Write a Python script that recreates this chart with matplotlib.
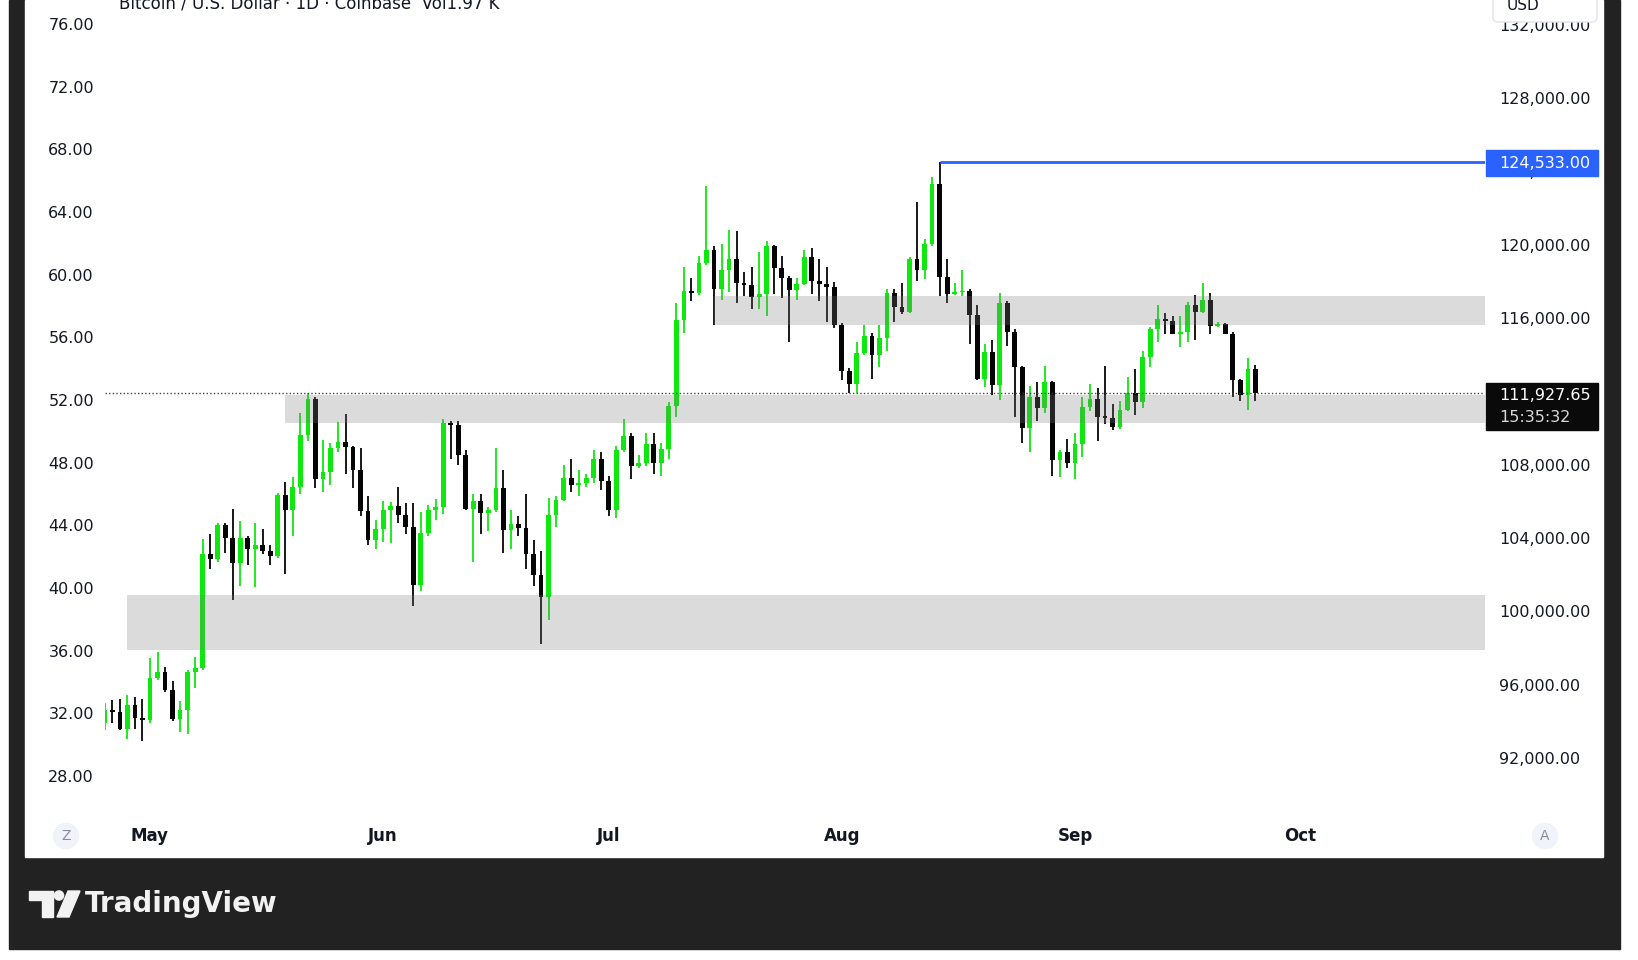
import numpy as np
import pandas as pd
import matplotlib
matplotlib.use('Agg')
import matplotlib.pyplot as plt
import matplotlib.dates as mdates
from matplotlib.patches import Rectangle, Polygon, Circle, FancyBboxPatch

W, H = 1638, 960

# ---------------- data (BTC/USD daily, thousands of USD) ----------------
start_date = '2025-04-25'
open_k = [93.9, 94.6, 94.5, 93.6, 94.9, 94.2,
          94.05, 96.35, 96.7, 95.7, 94.1, 94.6, 96.7, 96.9, 103.15, 102.85, 104.7, 104.0, 102.65, 104.0,
          103.4, 103.6, 103.3, 103.0, 106.35, 105.5, 106.8, 109.6, 111.6, 107.2, 107.6, 108.9, 109.25,
          108.95, 107.7, 105.45, 103.9,
          104.5, 105.5, 105.75, 105.25, 104.6, 101.45, 104.25, 105.5, 105.7, 110.25, 110.15, 108.5, 105.6,
          106.0, 105.35, 105.5, 106.7, 104.45, 104.75, 104.55, 103.15, 102.0, 100.8, 105.25, 106.05,
          107.25, 106.9, 107.0, 107.25, 108.3,
          107.1, 105.55, 108.8, 109.55, 107.9, 108.1, 109.15, 108.1, 108.85, 111.2, 115.9, 117.45, 117.35,
          119.0, 119.7, 117.6, 118.6, 119.2, 117.9, 117.8, 117.15, 117.3, 119.95, 118.7, 118.2, 117.5,
          117.85, 119.35, 118.0, 117.85, 117.7,
          115.6, 113.1, 112.4, 114.1, 115.0, 114.0, 114.9, 117.35, 116.6, 116.35, 119.2, 118.6, 120.05,
          123.3, 118.25, 117.3, 117.4, 117.45, 116.15, 112.65, 114.15, 112.35, 116.8, 115.25, 113.3, 110.0,
          111.7, 111.1, 112.5, 108.25, 108.7,
          108.1, 109.1, 111.15, 111.6, 110.6, 110.55, 110.05, 111.0, 111.9, 111.4, 113.85, 115.4, 115.95,
          115.85, 115.15, 115.25, 116.7, 116.35, 117.0, 115.55, 115.65, 115.15, 112.6, 111.8, 113.2]
high_k = [95.0, 95.15, 95.2, 95.45, 95.3, 95.2,
          97.45, 97.8, 96.95, 96.2, 95.1, 96.8, 97.5, 103.95, 104.2, 104.8, 104.8, 105.6, 104.9, 104.1,
          104.8, 104.5, 103.6, 106.45, 107.05, 107.3, 110.8, 111.9, 111.7, 109.35, 109.2, 110.35, 110.75,
          109.0, 108.9, 106.3, 105.0,
          106.0, 105.95, 106.8, 105.9, 105.9, 105.4, 105.8, 106.1, 110.5, 110.4, 110.4, 108.8, 106.4,
          106.4, 105.7, 108.9, 107.7, 105.5, 105.2, 106.4, 103.9, 103.3, 106.2, 106.3, 108.0,
          108.3, 107.7, 107.5, 108.8, 108.7,
          107.4, 109.0, 110.5, 109.7, 108.5, 109.7, 109.7, 109.2, 111.4, 116.8, 118.8, 118.2, 119.4,
          123.2, 119.95, 120.05, 120.8, 120.75, 118.5, 118.8, 119.6, 120.2, 120.0, 119.4, 118.3,
          118.2, 119.7, 119.8, 119.2, 118.8, 117.95,
          115.7, 113.25, 114.7, 115.6, 115.2, 115.6, 117.6, 117.6, 117.9, 119.3, 122.3, 120.3,
          123.7, 124.533, 119.2, 117.9, 118.6, 117.6, 116.7, 114.6, 114.8, 117.35, 116.95, 115.4, 113.4,
          112.3, 112.5, 113.4, 112.55, 108.8, 109.4,
          109.75, 111.7, 112.4, 112.2, 113.4, 111.3, 111.45, 112.8, 113.2, 114.2, 115.5, 116.7,
          116.25, 116.1, 116.1, 116.85, 117.25, 117.9, 117.35, 115.8, 115.75, 115.25, 112.65, 113.8, 113.45]
low_k = [93.5, 93.9, 93.5, 93.05, 93.6, 92.95,
         93.9, 96.25, 95.6, 94.0, 93.4, 93.3, 95.8, 96.8, 102.3, 102.7, 103.2, 100.6, 101.4, 102.5,
         101.3, 103.1, 102.5, 102.9, 102.05, 104.1, 106.4, 109.3, 106.7, 106.5, 106.9, 108.7, 107.5,
         106.7, 105.2, 103.6, 103.4,
         103.8, 103.7, 104.8, 104.2, 100.3, 101.1, 104.1, 105.0, 105.3, 108.3, 108.0, 105.5, 102.7,
         104.2, 104.4, 105.4, 103.2, 103.4, 104.1, 102.3, 101.4, 98.2, 99.5, 104.6, 106.0,
         106.5, 106.3, 106.8, 107.0, 106.6,
         105.2, 105.1, 108.7, 107.2, 107.8, 107.9, 107.5, 107.4, 108.3, 110.6, 115.2, 116.9, 117.25,
         118.9, 115.6, 117.0, 117.4, 116.8, 117.2, 116.5, 116.5, 116.1, 117.3, 117.1, 114.7,
         117.0, 117.8, 117.3, 116.9, 115.8, 115.45,
         112.6, 111.9, 111.9, 114.0, 112.65, 113.3, 114.2, 115.8, 116.2, 116.25, 118.0, 118.1,
         119.9, 117.2, 116.8, 117.25, 117.2, 114.6, 112.6, 112.25, 111.8, 111.5, 114.45, 110.6, 109.2,
         108.7, 110.4, 110.8, 107.4, 107.3, 107.8,
         107.2, 108.4, 110.95, 109.3, 110.2, 109.9, 109.95, 110.9, 110.7, 111.1, 113.3, 114.7,
         115.1, 115.1, 114.4, 114.7, 114.8, 116.25, 115.1, 115.5, 115.1, 111.7, 111.45, 111.0, 111.45]
close_k = [94.6, 94.5, 93.6, 94.9, 94.2, 94.05,
           96.35, 96.7, 95.7, 94.1, 94.6, 96.7, 96.9, 103.15, 102.85, 104.7, 104.0, 102.65, 104.0, 103.4,
           103.6, 103.3, 103.0, 106.35, 105.5, 106.8, 109.6, 111.6, 107.2, 107.6, 108.9, 109.25, 108.95,
           107.7, 105.45, 103.9, 104.5,
           105.5, 105.75, 105.25, 104.6, 101.45, 104.25, 105.5, 105.7, 110.25, 110.15, 108.5, 105.6, 106.0,
           105.35, 105.5, 106.7, 104.45, 104.75, 104.55, 103.15, 102.0, 100.8, 105.25, 106.05, 107.25,
           106.9, 107.0, 107.25, 108.3, 107.1,
           105.55, 108.8, 109.55, 107.9, 108.1, 109.15, 108.1, 108.85, 111.2, 115.9, 117.45, 117.35, 119.0,
           119.7, 117.6, 118.6, 119.2, 117.9, 117.8, 117.15, 117.3, 119.95, 118.7, 118.2, 117.5, 117.85,
           119.35, 118.0, 117.85, 117.7, 115.6,
           113.1, 112.4, 114.1, 115.0, 114.0, 114.9, 117.35, 116.6, 116.35, 119.2, 118.6, 120.05, 123.3,
           118.25, 117.3, 117.4, 117.45, 116.15, 112.65, 114.15, 112.35, 116.8, 115.25, 113.3, 110.0, 111.7,
           111.1, 112.5, 108.25, 108.7, 108.1,
           109.1, 111.15, 111.6, 110.6, 110.55, 110.05, 111.0, 111.9, 111.4, 113.85, 115.4, 115.95, 115.85,
           115.15, 115.25, 116.7, 116.35, 117.0, 115.55, 115.65, 115.15, 112.6, 111.8, 113.2, 111.92765]

ath_price = 124533.00
ath_date = '2025-08-14'
last_price = 111927.65
countdown = '15:35:32'

zone_start = ['2025-04-28', '2025-05-19', '2025-07-15']
zone_low_k = [97.89, 110.27, 115.62]
zone_high_k = [100.89, 111.80, 117.20]

right_ticks = [92000, 96000, 100000, 104000, 108000, 112000, 116000, 120000, 124000, 128000, 132000]
left_ticks = [28, 32, 36, 40, 44, 48, 52, 56, 60, 64, 68, 72, 76]
month_starts = ['2025-05-01', '2025-06-01', '2025-07-01', '2025-08-01', '2025-09-01', '2025-10-01']
month_labels = ['May', 'Jun', 'Jul', 'Aug', 'Sep', 'Oct']
title_text = 'Bitcoin / U.S. Dollar \u00b7 1D \u00b7 Coinbase  Vol1.97 K'

# ---------------- derived ----------------
o = np.array(open_k) * 1000
h = np.array(high_k) * 1000
l = np.array(low_k) * 1000
c = np.array(close_k) * 1000
dates = pd.date_range(start_date, periods=len(c), freq='D')
xd = mdates.date2num(dates)

UP = '#0fe80f'
DN = '#050505'
TXT = '#131722'

fig = plt.figure(figsize=(W / 100, H / 100), dpi=100, facecolor='white')


def frac(x0, y0, x1, y1):
    return [x0 / W, 1 - y1 / H, (x1 - x0) / W, (y1 - y0) / H]


# background frame
bg = fig.add_axes([0, 0, 1, 1], zorder=-5)
bg.set_xlim(0, W)
bg.set_ylim(H, 0)
bg.axis('off')
bg.add_patch(Rectangle((9, 0), 1611, 949, color='#222222'))
bg.add_patch(Rectangle((25, 0), 1578, 857, color='#ffffff'))
# TradingView logo
bg.add_patch(Polygon([(29, 891), (53, 891), (53, 917), (42, 917), (42, 900), (29, 900)],
                     closed=True, color='#f2f2f2'))
bg.add_patch(Circle((59, 895.5), 4.6, color='#f2f2f2'))
bg.add_patch(Polygon([(68, 891), (80, 891), (69, 917), (57, 917)], closed=True, color='#f2f2f2'))
bg.text(85, 904, 'TradingView', fontsize=20, color='#f2f2f2', va='center', ha='left',
        fontweight='semibold', family='DejaVu Sans')

# main price axes
AX_L, AX_R, AX_T, AX_B = 105, 1485, 0, 815
ax = fig.add_axes(frac(AX_L, AX_T, AX_R, AX_B), zorder=1)
ax.patch.set_alpha(0)
axL = ax.twinx()

may1 = mdates.date2num(pd.Timestamp('2025-05-01'))
pxday = 7.52
ax.set_xlim(may1 + (AX_L - 150) / pxday, may1 + (AX_R - 150) / pxday)
ppx = 4000 / 73.33  # price per pixel
ax.set_ylim(128000 - (AX_B - 98) * ppx, 128000 + (98 - AX_T) * ppx)
for s in ax.spines.values():
    s.set_visible(False)

# zones
xr = ax.get_xlim()[1]
for zs, zl, zh in zip(zone_start, zone_low_k, zone_high_k):
    x0 = mdates.date2num(pd.Timestamp(zs))
    ax.add_patch(Rectangle((x0, zl * 1000), xr - x0, (zh - zl) * 1000,
                           facecolor='#7a7a7a', alpha=0.27, edgecolor='none', zorder=4))

# candles
cols = [UP if cc >= oo else DN for oo, cc in zip(o, c)]
ax.vlines(xd, l, h, colors=cols, linewidth=1.3, zorder=2)
body_lo = np.minimum(o, c)
body_h = np.maximum(np.abs(c - o), 80)
ax.bar(xd, body_h, bottom=body_lo, width=0.64, color=cols, zorder=3, linewidth=0)

# last price dotted line and ATH line
ax.axhline(last_price, color='#444444', linewidth=1.0, linestyle=(0, (1, 1.6)), zorder=5)
ax.hlines(ath_price, mdates.date2num(pd.Timestamp(ath_date)), xr, color='#2962ff',
          linewidth=2, zorder=5)

# right price scale (on main axes)
ax.set_yticks(right_ticks)
ax.set_yticklabels([f'{v:,.2f}' for v in right_ticks])
ax.tick_params(axis='y', which='both', left=False, labelleft=False, right=False, labelright=True,
               length=0, pad=10, labelsize=11.5, labelcolor=TXT)
ax.set_xticks([])

# month labels
for ms, lab in zip(month_starts, month_labels):
    ax.text(mdates.date2num(pd.Timestamp(ms)), -(836 - AX_B) / (AX_B - AX_T), lab,
            transform=ax.get_xaxis_transform(), ha='center', va='center', fontsize=12,
            fontweight='bold', color=TXT, clip_on=False)

# left scale (twin axes)
ppu = 15.667
axL.set_ylim(28 - (AX_B - 776) / ppu, 76 + (24 - AX_T) / ppu)
axL.set_yticks(left_ticks)
axL.set_yticklabels([f'{v:.2f}' for v in left_ticks])
axL.tick_params(axis='y', which='both', left=False, labelleft=True, right=False, labelright=False,
                length=0, pad=8, labelsize=11.5, labelcolor=TXT)
axL.set_xticks([])
for s in axL.spines.values():
    s.set_visible(False)

# overlays
fg = fig.add_axes([0, 0, 1, 1], zorder=10)
fg.set_xlim(0, W)
fg.set_ylim(H, 0)
fg.axis('off')
fg.patch.set_alpha(0)
fg.add_patch(Rectangle((1486, 150), 112, 26, color='#2962ff'))
fg.text(1499, 163.5, f'{ath_price:,.2f}', color='white', fontsize=11.5, va='center', ha='left')
fg.add_patch(Rectangle((1486, 383), 112, 47, color='#0a0a0a'))
fg.text(1499, 396, f'{last_price:,.2f}', color='white', fontsize=11.5, va='center', ha='left')
fg.text(1499, 418, countdown, color='#d8d8d8', fontsize=11.5, va='center', ha='left')
fg.add_patch(FancyBboxPatch((1493, -14), 104, 36, boxstyle='round,pad=0,rounding_size=5',
                            facecolor='white', edgecolor='#e0e3eb', linewidth=1))
fg.text(1507, 5, 'USD', color=TXT, fontsize=11, va='center', ha='left')
fg.text(119, 8, title_text, color=TXT, fontsize=12, va='baseline', ha='left')
for xx, letter in ((66, 'Z'), (1545, 'A')):
    fg.text(xx, 836, letter, color='#8a8d96', fontsize=10, va='center', ha='center',
            bbox=dict(boxstyle='circle,pad=0.45', facecolor='#f0f3fa', edgecolor='none'))

fig.savefig('out.png', dpi=100, facecolor='white')
